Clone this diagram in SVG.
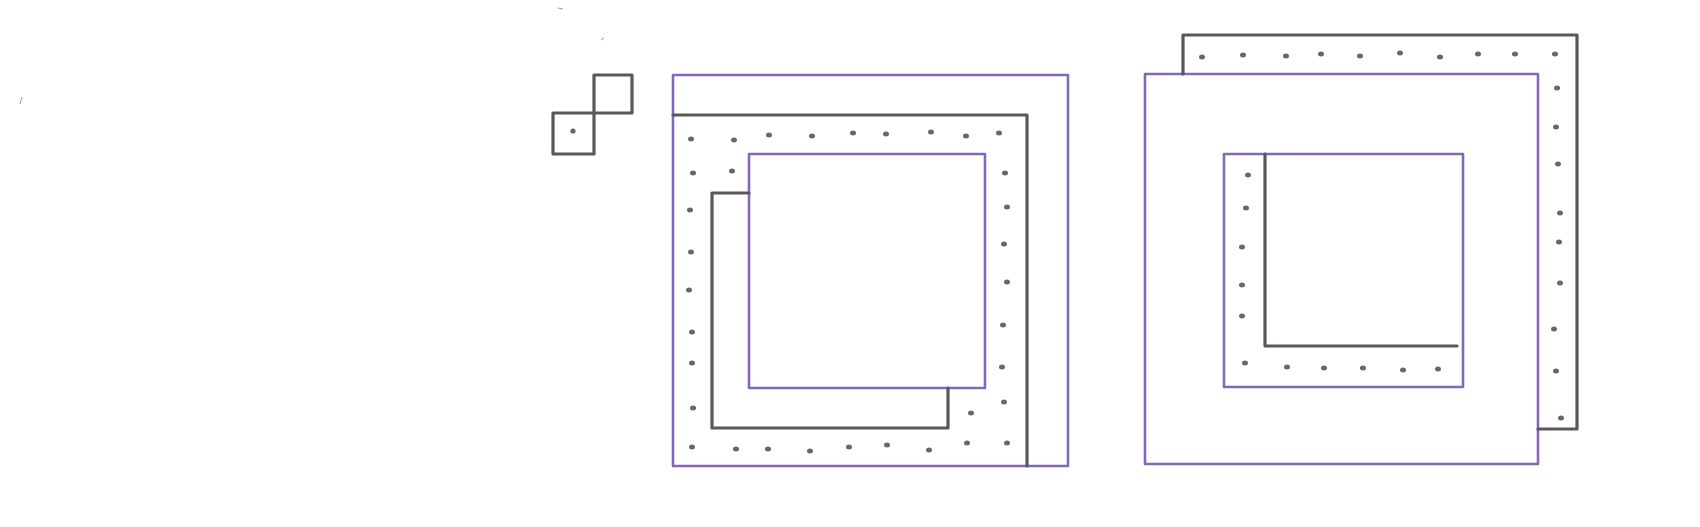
<svg xmlns="http://www.w3.org/2000/svg" width="1700" height="527" viewBox="0 0 1700 527">
<style>
.p{fill:none;stroke:#8468b8;stroke-width:2.6;stroke-linejoin:round;stroke-linecap:round}
.g{fill:none;stroke:#5a5856;stroke-width:3.2;stroke-linejoin:round;stroke-linecap:round}
.d{fill:#6a6866}
.n{fill:none;stroke:#9a9a9a;stroke-width:1}
</style>
<defs><ellipse id="dot" rx="3" ry="2.5"/></defs>
<rect width="1700" height="527" fill="#fff"/>
<g id="noise">
<path class="n" d="M20 104 L22 97"/>
<path class="n" d="M601 40 L604 38"/>
<path class="n" d="M558 8 L563 9"/>
</g>
<g id="icon">
<rect class="g" x="594" y="75" width="38" height="38"/>
<rect class="g" x="553" y="113" width="41" height="41"/>
<circle class="d" cx="573" cy="131" r="2.6"/>
</g>
<g id="middle">
<rect class="p" x="673" y="75" width="395" height="391"/>
<path class="g" d="M673 115 L1027 115 L1027 466"/>
<rect class="p" x="749" y="154" width="236" height="234"/>
<path class="g" d="M749 193 L712 193 L712 428 L948 428 L948 388"/>
<g class="d">
<use href="#dot" x="691" y="139"/><use href="#dot" x="734" y="140"/><use href="#dot" x="769" y="135"/><use href="#dot" x="812" y="136"/><use href="#dot" x="853" y="133"/><use href="#dot" x="886" y="134"/><use href="#dot" x="931" y="132"/><use href="#dot" x="966" y="136"/><use href="#dot" x="999" y="133"/>
<use href="#dot" x="693" y="173"/><use href="#dot" x="732" y="171"/>
<use href="#dot" x="690" y="210"/><use href="#dot" x="691" y="252"/><use href="#dot" x="689" y="290"/><use href="#dot" x="692" y="332"/><use href="#dot" x="692" y="363"/><use href="#dot" x="693" y="408"/>
<use href="#dot" x="692" y="447"/><use href="#dot" x="736" y="449"/><use href="#dot" x="768" y="449"/><use href="#dot" x="810" y="451"/><use href="#dot" x="849" y="447"/><use href="#dot" x="887" y="445"/><use href="#dot" x="929" y="450"/><use href="#dot" x="967" y="443"/><use href="#dot" x="1007" y="443"/>
<use href="#dot" x="1005" y="173"/><use href="#dot" x="1007" y="207"/><use href="#dot" x="1004" y="244"/><use href="#dot" x="1007" y="282"/><use href="#dot" x="1003" y="325"/><use href="#dot" x="1002" y="367"/><use href="#dot" x="1004" y="402"/><use href="#dot" x="971" y="413"/>
</g>
</g>
<g id="right">
<rect class="p" x="1145" y="74" width="393" height="390"/>
<path class="g" d="M1183 74 L1183 35 L1577 35 L1577 429 L1538 429"/>
<rect class="p" x="1224" y="154" width="239" height="233"/>
<path class="g" d="M1265 154 L1265 346 L1457 346"/>
<g class="d">
<use href="#dot" x="1202" y="57"/><use href="#dot" x="1243" y="55"/><use href="#dot" x="1286" y="56"/><use href="#dot" x="1321" y="54"/><use href="#dot" x="1360" y="56"/><use href="#dot" x="1400" y="53"/><use href="#dot" x="1440" y="57"/><use href="#dot" x="1478" y="54"/><use href="#dot" x="1515" y="54"/><use href="#dot" x="1555" y="54"/>
<use href="#dot" x="1557" y="88"/><use href="#dot" x="1556" y="127"/><use href="#dot" x="1558" y="164"/><use href="#dot" x="1560" y="213"/><use href="#dot" x="1559" y="242"/><use href="#dot" x="1560" y="283"/><use href="#dot" x="1554" y="329"/><use href="#dot" x="1556" y="371"/><use href="#dot" x="1561" y="418"/>
<use href="#dot" x="1248" y="175"/><use href="#dot" x="1246" y="208"/><use href="#dot" x="1242" y="247"/><use href="#dot" x="1242" y="285"/><use href="#dot" x="1242" y="316"/>
<use href="#dot" x="1245" y="363"/><use href="#dot" x="1287" y="367"/><use href="#dot" x="1324" y="368"/><use href="#dot" x="1363" y="368"/><use href="#dot" x="1403" y="370"/><use href="#dot" x="1438" y="369"/>
</g>
</g>
</svg>
